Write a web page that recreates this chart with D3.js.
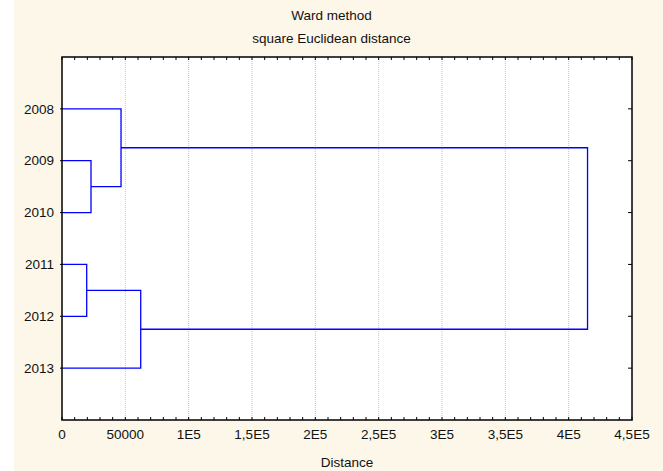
<!DOCTYPE html>
<html>
<head>
<meta charset="utf-8">
<script src="https://cdn.jsdelivr.net/npm/d3@7"></script>
<style>
  body { margin: 0; background: #ffffff; }
  text { font-family: "Liberation Sans", Arial, sans-serif; font-size: 13.5px; fill: #111; }
</style>
</head>
<body>
<div id="chart"></div>
<script>
// data
var leaves = ["2008", "2009", "2010", "2011", "2012", "2013"];
// merges: [childA, childB, distance]; index >= 6 refers to an earlier merge (6 + row)
var merges = [
  [1, 2, 22900],
  [3, 4, 19500],
  [0, 6, 46600],
  [7, 5, 62150],
  [8, 9, 414900]
];
var xTicks = [0, 50000, 100000, 150000, 200000, 250000, 300000, 350000, 400000, 450000];
var xTickLabels = ["0", "50000", "1E5", "1,5E5", "2E5", "2,5E5", "3E5", "3,5E5", "4E5", "4,5E5"];

var W = 663, H = 471;
var margin = {top: 57, right: 31, bottom: 51, left: 62},
  width = W - margin.left - margin.right,
  height = H - margin.top - margin.bottom;

var svg = d3.select("#chart").append("svg")
  .attr("width", W)
  .attr("height", H);

// cream background with white strip on the left
svg.append("rect").attr("x", 14).attr("y", 0).attr("width", W - 14).attr("height", H).attr("fill", "#fcf7e9");

var g = svg.append("g").attr("transform", "translate(" + margin.left + "," + margin.top + ")");

var x = d3.scaleLinear().domain([0, 450000]).range([0, width]);
var y = d3.scalePoint().domain(leaves).range([0, height]).padding(1);

g.append("rect").attr("width", width).attr("height", height).attr("fill", "#fff");

// grid lines
g.append("g").selectAll("line")
  .data(xTicks.slice(1, -1))
  .enter().append("line")
    .attr("x1", function(d) { return x(d); })
    .attr("x2", function(d) { return x(d); })
    .attr("y1", 0).attr("y2", height)
    .attr("stroke", "#c4c4c4")
    .attr("stroke-dasharray", "1,1");

// node positions
var nodes = leaves.map(function(l) { return {y: y(l), h: 0}; });
merges.forEach(function(m) {
  nodes.push({y: (nodes[m[0]].y + nodes[m[1]].y) / 2, h: m[2]});
});

g.append("g").selectAll("path")
  .data(merges)
  .enter().append("path")
    .attr("d", function(m) {
      var a = nodes[m[0]], b = nodes[m[1]];
      return "M" + x(a.h) + "," + a.y + "H" + x(m[2]) + "V" + b.y + "H" + x(b.h);
    })
    .attr("fill", "none")
    .attr("stroke", "#0000ff")
    .attr("stroke-width", 1.3);

// minor ticks top & bottom
var minor = d3.range(0, 450001, 10000);
g.append("g").selectAll("line").data(minor).enter().append("line")
  .attr("x1", function(d) { return x(d); }).attr("x2", function(d) { return x(d); })
  .attr("y1", 0).attr("y2", 3).attr("stroke", "#000");
g.append("g").selectAll("line").data(minor).enter().append("line")
  .attr("x1", function(d) { return x(d); }).attr("x2", function(d) { return x(d); })
  .attr("y1", height).attr("y2", height - 3).attr("stroke", "#000");

// y ticks on both sides
g.append("g").selectAll("line").data(leaves).enter().append("line")
  .attr("x1", width).attr("x2", width - 4)
  .attr("y1", function(d) { return y(d); }).attr("y2", function(d) { return y(d); })
  .attr("stroke", "#000");
g.append("g").selectAll("line").data(leaves).enter().append("line")
  .attr("x1", -2).attr("x2", 0)
  .attr("y1", function(d) { return y(d); }).attr("y2", function(d) { return y(d); })
  .attr("stroke", "#000");

// frame
g.append("rect").attr("width", width).attr("height", height)
  .attr("fill", "none").attr("stroke", "#000").attr("stroke-width", 1.5);

// tick labels
g.append("g").selectAll("text").data(xTicks).enter().append("text")
  .attr("x", function(d) { return x(d); })
  .attr("y", height + 19)
  .attr("text-anchor", "middle")
  .text(function(d, i) { return xTickLabels[i]; });

g.append("g").selectAll("text").data(leaves).enter().append("text")
  .attr("x", -8)
  .attr("y", function(d) { return y(d); })
  .attr("dy", "0.35em")
  .attr("text-anchor", "end")
  .text(function(d) { return d; });

// titles
svg.append("text").attr("x", W / 2).attr("y", 20).attr("text-anchor", "middle").text("Ward method");
svg.append("text").attr("x", W / 2).attr("y", 43).attr("text-anchor", "middle").text("square Euclidean distance");
svg.append("text").attr("x", margin.left + width / 2).attr("y", 467).attr("text-anchor", "middle").text("Distance");
</script>
</body>
</html>
